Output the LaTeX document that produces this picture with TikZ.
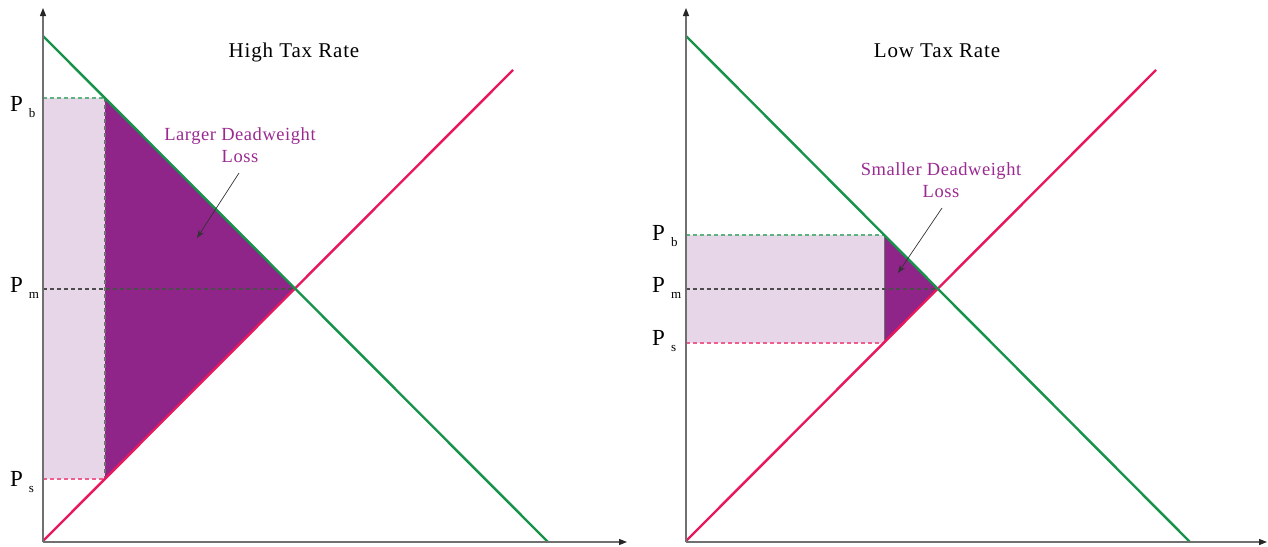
\documentclass[tikz,border=0pt]{standalone}
\usepackage{fontspec}
\setmainfont{Liberation Serif}
\newfontfamily\titlefont[LetterSpace=4]{Liberation Serif}
\newfontfamily\dwfont[LetterSpace=3]{Liberation Serif}
\usetikzlibrary{arrows.meta}
\definecolor{dem}{HTML}{17924A}
\definecolor{sup}{HTML}{E8185E}
\definecolor{dwl}{HTML}{8F2489}
\definecolor{rev}{HTML}{E7D5E8}
\definecolor{axc}{HTML}{707070}
\definecolor{lbl}{HTML}{9A2A91}
\newcommand{\plab}[1]{P\kern6pt\raisebox{-6pt}{\fontsize{13}{13}\selectfont #1}}
\begin{document}
\begin{tikzpicture}[x=1pt,y=-1pt,
  axis/.style={draw=axc,line width=1.3pt,-{Triangle[length=8pt,width=6pt,color=black!85]}},
  demand/.style={draw=dem,line width=2.4pt},
  supply/.style={draw=sup,line width=2.4pt},
  pline/.style={line width=1.1pt,dash pattern=on 4pt off 3pt},
  plabel/.style={font=\fontsize{23}{23}\selectfont,anchor=base west,inner sep=0pt},
  title/.style={font=\titlefont\fontsize{21}{21}\selectfont,anchor=base,inner sep=0pt},
  dwlabel/.style={font=\dwfont\fontsize{18.5}{22}\selectfont,text=lbl,align=center,inner sep=0pt},
  callout/.style={draw=black!80,line width=0.7pt,-{Stealth[length=8pt,width=6pt]}}
]
\useasboundingbox (0,0) rectangle (1268,546);
% ---------- Left panel ----------
\coordinate (O1) at (43,542);
\coordinate (Y1) at (43,8);
\coordinate (X1) at (627,542);
\coordinate (D1a) at (43,36);
\coordinate (D1b) at (548,542);
\coordinate (S1a) at (43,541);
\coordinate (S1b) at (513,70);
\coordinate (E1) at (295,289);
\coordinate (B1) at (105,98);
\coordinate (C1) at (105,479);
\coordinate (Pb1) at (43,98);
\coordinate (Pm1) at (43,289);
\coordinate (Ps1) at (43,479);
\fill[rev] (Pb1) rectangle (C1);
\fill[dwl] (B1) -- (E1) -- (C1) -- cycle;
\draw[pline,draw=axc] (B1) -- (C1);
\draw[pline,draw=dem!70] (Pb1) -- (B1);
\draw[pline,draw=sup!70] (Ps1) -- (C1);
\draw[pline,draw=black!70] (Pm1) -- (E1);
\draw[supply] (S1a) -- (S1b);
\draw[demand] (D1a) -- (D1b);
\draw[axis] (O1) -- (Y1);
\draw[axis] (O1) -- (X1);
\node[plabel] (lpb1) at (10,111) {\plab{b}};
\node[plabel] (lpm1) at (10,292) {\plab{m}};
\node[plabel] (lps1) at (10,486) {\plab{s}};
\node[title] (t1) at (294,57) {High Tax Rate};
\node[dwlabel] (dl1) at (240,145) {Larger Deadweight\\Loss};
\coordinate (a1s) at (239,173);
\coordinate (a1e) at (197,238);
\draw[callout] (a1s) -- (a1e);
% ---------- Right panel ----------
\coordinate (O2) at (686,542);
\coordinate (Y2) at (686,8);
\coordinate (X2) at (1267,542);
\coordinate (D2a) at (686,36);
\coordinate (D2b) at (1190,542);
\coordinate (S2a) at (686,541);
\coordinate (S2b) at (1156,70);
\coordinate (E2) at (938,289);
\coordinate (B2) at (884,235);
\coordinate (C2) at (884,343);
\coordinate (Pb2) at (686,235);
\coordinate (Pm2) at (686,289);
\coordinate (Ps2) at (686,343);
\fill[rev] (Pb2) rectangle (C2);
\fill[dwl] (B2) -- (E2) -- (C2) -- cycle;
\draw[draw=axc,line width=0.8pt] (B2) -- (C2);
\draw[pline,draw=dem!70] (Pb2) -- (B2);
\draw[pline,draw=sup!70] (Ps2) -- (C2);
\draw[pline,draw=black!70] (Pm2) -- (E2);
\draw[supply] (S2a) -- (S2b);
\draw[demand] (D2a) -- (D2b);
\draw[axis] (O2) -- (Y2);
\draw[axis] (O2) -- (X2);
\node[plabel] (lpb2) at (652,240) {\plab{b}};
\node[plabel] (lpm2) at (652,292) {\plab{m}};
\node[plabel] (lps2) at (652,345) {\plab{s}};
\node[title] (t2) at (937,57) {Low Tax Rate};
\node[dwlabel] (dl2) at (941,180) {Smaller Deadweight\\Loss};
\coordinate (a2s) at (942,208);
\coordinate (a2e) at (898,273);
\draw[callout] (a2s) -- (a2e);
\end{tikzpicture}
\end{document}
